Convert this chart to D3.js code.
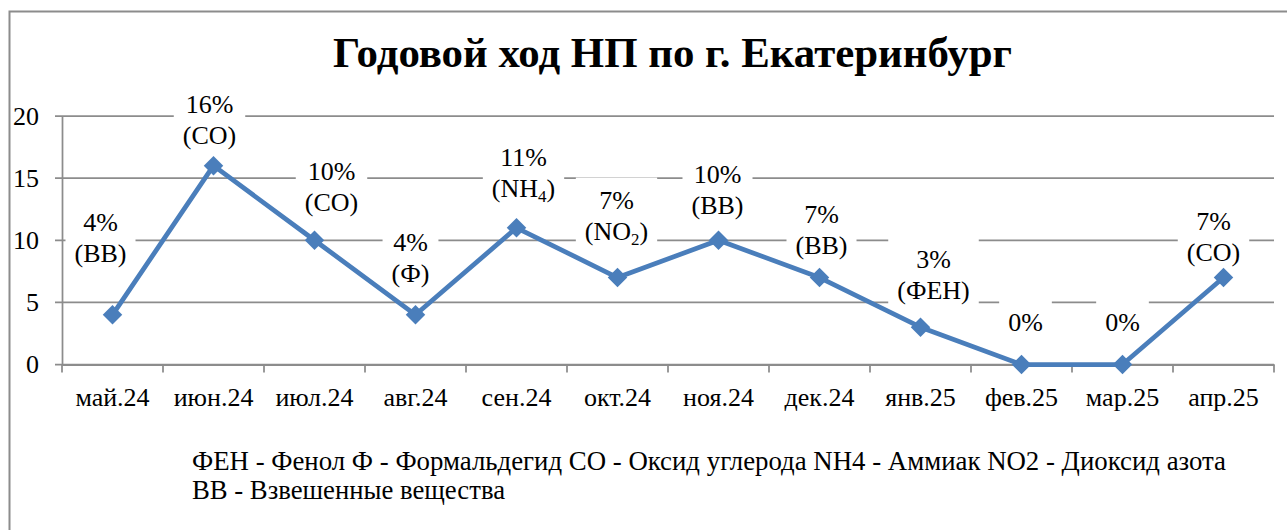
<!DOCTYPE html>
<html>
<head>
<meta charset="utf-8">
<script src="https://cdn.jsdelivr.net/npm/d3@7"></script>
<style>
  body { margin: 0; background: #fff; }
</style>
</head>
<body>
<svg id="chart"></svg>
<script>
// data
let months = ["май.24", "июн.24", "июл.24", "авг.24", "сен.24", "окт.24", "ноя.24", "дек.24", "янв.25", "фев.25", "мар.25", "апр.25"]
let values = [4, 16, 10, 4, 11, 7, 10, 7, 3, 0, 0, 7]
let substances = ["ВВ", "СО", "СО", "Ф", "NH_4", "NO_2", "ВВ", "ВВ", "ФЕН", "", "", "СО"]
let yTicks = [0, 5, 10, 15, 20]
let title = "Годовой ход НП по г. Екатеринбург"
let legendLines = [
  "ФЕН - Фенол Ф - Формальдегид СО - Оксид углерода NH4 - Аммиак NO2 - Диоксид азота",
  "ВВ - Взвешенные вещества"
]

// label placement (labels were moved by hand in the original)
let labelDx = [-12, -4, 17, -5, 7, -1, -1, 2, 13, 4, 0, -10]
let labelLift = [62, 31, 38, 42, 40, 47, 35, 33, 37, 43, 43, 26]

let width = 1287
let height = 530
let plotLeft = 62
let plotRight = 1274
let plotTop = 116
let plotBottom = 364.5
let blue = "#4a7ebb"
let gray = "#8c8c8c"
let serif = 'Liberation Serif'
let fs = 26

let svg = d3.select('#chart')
  .attr('width', width)
  .attr('height', height)
  .style('display', 'block')

// frame
svg.append('rect')
  .attr('x', 9.5).attr('y', 11.5)
  .attr('width', 1400).attr('height', 600)
  .attr('fill', 'none')
  .attr('stroke', gray)
  .attr('stroke-width', 2)

// title
svg.append('text')
  .attr('x', 333).attr('y', 67)
  .style('font-family', serif)
  .attr('font-size', 43)
  .attr('font-weight', 'bold')
  .attr('textLength', 679)
  .attr('lengthAdjust', 'spacingAndGlyphs')
  .text(title)

let xScale = d3.scaleBand()
  .domain(months)
  .range([plotLeft, plotRight])

let yScale = d3.scaleLinear()
  .domain([0, 20])
  .range([plotBottom, plotTop])

// gridlines
svg.append('g')
  .selectAll('line')
  .data(yTicks)
  .enter()
  .append('line')
  .attr('x1', plotLeft - 7)
  .attr('x2', plotRight)
  .attr('y1', d => yScale(d))
  .attr('y2', d => yScale(d))
  .attr('stroke', gray)
  .attr('stroke-width', 1.75)

// y axis
let yAxis = d3.axisLeft(yScale).tickValues(yTicks).tickSize(0).tickPadding(23)
let yg = svg.append('g')
  .attr('transform', 'translate(' + plotLeft + ',0)')
  .call(yAxis)
yg.select('.domain').attr('stroke', gray).attr('stroke-width', 1.75)
yg.selectAll('text').style('font-family', serif).style('font-size', fs + 'px').attr('fill', '#000')

// x axis
let xAxis = d3.axisBottom(xScale).tickSize(0).tickPadding(23)
let xg = svg.append('g')
  .attr('transform', 'translate(0,' + plotBottom + ')')
  .call(xAxis)
xg.select('.domain').attr('stroke', gray).attr('stroke-width', 1.75)
xg.selectAll('text').style('font-family', serif).style('font-size', fs + 'px').attr('fill', '#000')

let edges = months.map(m => xScale(m)).concat([plotRight])
svg.append('g')
  .selectAll('line')
  .data(edges)
  .enter()
  .append('line')
  .attr('x1', d => d).attr('x2', d => d)
  .attr('y1', plotBottom).attr('y2', plotBottom + 8)
  .attr('stroke', gray)
  .attr('stroke-width', 1.75)

let cx = (d, i) => xScale(months[i]) + xScale.bandwidth() / 2

// data labels (white boxes over the gridlines, under the line)
let labels = svg.append('g')
values.forEach((v, i) => {
  let x = cx(v, i) + labelDx[i]
  let lastCenter = yScale(v) - labelLift[i]
  let lines = [v + '%']
  if (substances[i]) lines.push(substances[i])
  let g = labels.append('g')
  let box = g.append('rect').attr('fill', '#fff')
  let t = g.append('text')
    .attr('text-anchor', 'middle')
    .style('font-family', serif)
    .attr('font-size', fs)
  lines.forEach((s, k) => {
    let cy = lastCenter - (lines.length - 1 - k) * 31
    let tl = t.append('tspan').attr('x', x).attr('y', cy + 9)
    if (k === 0) { tl.text(s); return }
    let parts = s.split('_')
    tl.text('(' + parts[0])
    if (parts[1]) {
      t.append('tspan').attr('font-size', fs * 0.65).attr('dy', 5).text(parts[1])
      t.append('tspan').attr('dy', -5).text(')')
    } else {
      t.append('tspan').text(')')
    }
  })
  let bb = t.node().getBBox()
  box.attr('x', bb.x - 9).attr('y', bb.y - 8)
    .attr('width', bb.width + 18).attr('height', bb.height + 14)
})

// series
let line = d3.line()
  .x(cx)
  .y(d => yScale(d))

svg.append('path')
  .datum(values)
  .attr('d', line)
  .attr('fill', 'none')
  .attr('stroke', blue)
  .attr('stroke-width', 4.75)
  .attr('stroke-linejoin', 'round')

svg.append('g')
  .selectAll('path')
  .data(values)
  .enter()
  .append('path')
  .attr('d', d3.symbol(d3.symbolSquare, 190))
  .attr('transform', (d, i) => 'translate(' + cx(d, i) + ',' + yScale(d) + ') rotate(45)')
  .attr('fill', blue)

// legend text
svg.append('g')
  .selectAll('text')
  .data(legendLines)
  .enter()
  .append('text')
  .attr('x', 192)
  .attr('y', (d, i) => 470 + i * 29)
  .style('font-family', serif)
  .attr('font-size', 27)
  .attr('textLength', (d, i) => i === 0 ? 1034 : 313)
  .attr('lengthAdjust', 'spacingAndGlyphs')
  .text(d => d)
</script>
</body>
</html>
